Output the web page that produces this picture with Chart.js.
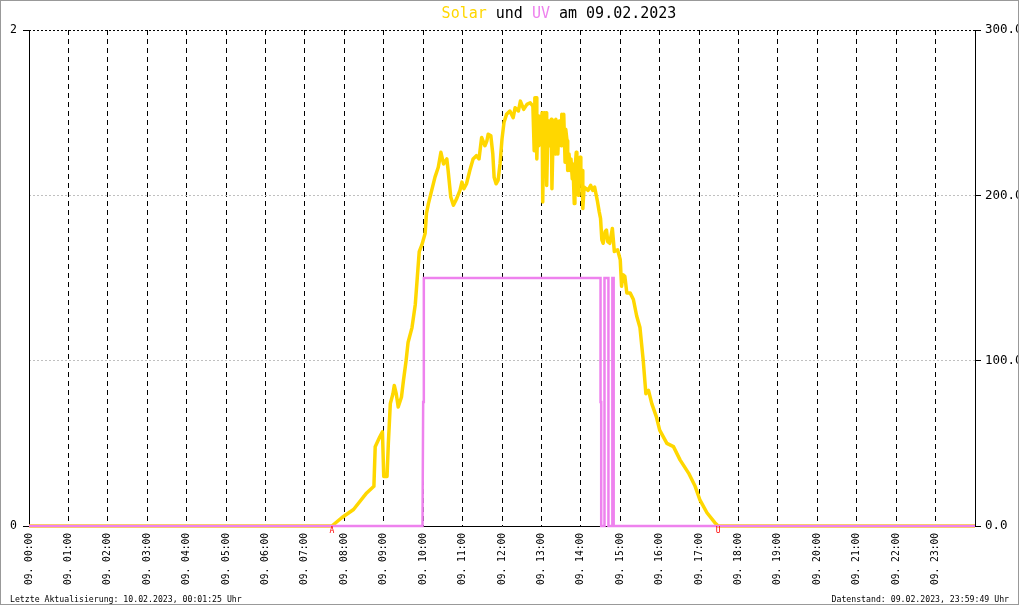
<!DOCTYPE html>
<html>
<head>
<meta charset="utf-8">
<script src="https://cdn.jsdelivr.net/npm/chart.js@4/dist/chart.umd.min.js"></script>
<style>
  html, body { margin: 0; padding: 0; background: #fff; }
  canvas { display: block; }
</style>
</head>
<body>
<canvas id="chart" width="1020" height="606"></canvas>
<script>
// x axis tick labels (one per hour)
const hourLabels = [
  '09. 00:00', '09. 01:00', '09. 02:00', '09. 03:00', '09. 04:00', '09. 05:00',
  '09. 06:00', '09. 07:00', '09. 08:00', '09. 09:00', '09. 10:00', '09. 11:00',
  '09. 12:00', '09. 13:00', '09. 14:00', '09. 15:00', '09. 16:00', '09. 17:00',
  '09. 18:00', '09. 19:00', '09. 20:00', '09. 21:00', '09. 22:00', '09. 23:00'
];

// solar radiation (W/m², right axis), time in minutes of the day
const solarTimes = [
  0, 461, 476, 494, 514, 525, 527, 534, 538, 540, 545, 547, 550, 554, 556, 559,
  562, 567, 570, 574, 577, 583, 588, 591, 594, 598, 603, 605, 608, 613, 618, 623,
  627, 631, 636, 638, 642, 646, 651, 656, 659, 662, 666, 671, 676, 681, 685, 689,
  694, 697, 699, 703, 706, 708, 711, 714, 717, 720, 723, 727, 732, 737, 740, 745,
  748, 753, 758, 763,
  767, 769, 770, 772, 773, 775, 776, 778, 779, 781, 782, 784, 785, 787, 788, 790,
  791, 793, 795, 796, 798, 799, 801, 802, 804, 805, 807, 808, 810, 811, 813, 814,
  816, 817, 819, 820, 822, 824, 825, 827, 828, 830, 831, 833, 834, 836, 837, 839,
  840, 842, 843, 845, 846,
  851, 855, 858, 861, 865, 868, 870, 872, 874, 877, 879, 881,
  884, 888, 891, 896, 900, 902, 904, 907, 910, 915, 920, 925, 930, 935, 939, 943,
  948, 955, 960, 971, 981, 991, 1004, 1014, 1021, 1032, 1044, 1049, 1440
];
const solarValues = [
  0, 0, 5, 10, 20, 24, 48, 54, 57, 30, 30, 50, 74, 80, 85, 80,
  72, 78, 88, 100, 111, 120, 134, 150, 166, 170, 177, 189, 195, 203, 211, 217,
  226, 219, 222, 215, 199, 194, 198, 203, 208, 204, 207, 215, 222, 224, 222, 235,
  230, 233, 237, 236, 225, 211, 207, 209, 219, 234, 244, 249, 251, 247, 253, 251,
  257, 252, 255, 256,
  254, 227, 259, 259, 222, 248, 230, 245, 235, 250, 196, 250, 240, 250, 206, 240,
  245, 230, 246, 204, 240, 245, 225, 246, 235, 225, 245, 240, 230, 249, 240, 249,
  220, 240, 233, 215, 225, 215, 222, 210, 219, 195, 215, 226, 205, 200, 220, 223,
  210, 215, 192, 205, 205,
  203, 206, 203, 205, 197, 190, 186, 173, 171, 178, 179, 172,
  171, 180, 166, 167, 161, 145, 152, 151, 141, 141, 137, 127, 120, 100, 80, 82,
  74, 66, 58, 50, 48, 40, 32, 24, 16, 8, 2, 0, 0
];

// UV index (left axis)
const uvTimes  = [0, 599, 600, 601, 870, 870, 871, 871, 876, 876, 882, 882, 888, 888, 890, 890, 1440];
const uvValues = [0, 0, 0.5, 1, 1, 0.5, 0.5, 0, 0, 1, 1, 0, 0, 1, 1, 0, 0];

// sunrise / sunset markers (minutes)
const sunMarks = [461, 1049];
const sunMarkLabels = ['A', 'U'];

const titleParts = [
  ['Solar', '#FFD700'],
  [' und ', '#000000'],
  ['UV', '#EE82EE'],
  [' am 09.02.2023', '#000000']
];
const footerLeft = 'Letzte Aktualisierung: 10.02.2023, 00:01:25 Uhr';
const footerRight = 'Datenstand: 09.02.2023, 23:59:49 Uhr';

const MONO = "'DejaVu Sans Mono', 'Liberation Mono', monospace";

const toPoints = (xs, ys) => xs.map((t, i) => ({ x: t, y: ys[i] }));

const decorations = {
  id: 'decorations',
  beforeDraw(chart) {
    const ctx = chart.ctx;
    ctx.save();
    ctx.fillStyle = '#ffffff';
    ctx.fillRect(0, 0, chart.width, chart.height);
    ctx.restore();
  },
  afterDraw(chart) {
    const ctx = chart.ctx;
    const xScale = chart.scales.x;
    ctx.save();

    // title with coloured words
    ctx.font = '15px ' + MONO;
    ctx.textBaseline = 'alphabetic';
    ctx.textAlign = 'left';
    let total = 0;
    titleParts.forEach(p => { total += ctx.measureText(p[0]).width; });
    let tx = 559 - total / 2;
    titleParts.forEach(p => {
      ctx.fillStyle = p[1];
      ctx.fillText(p[0], tx, 18);
      tx += ctx.measureText(p[0]).width;
    });

    // sunrise / sunset letters
    ctx.font = '8px ' + MONO;
    ctx.fillStyle = '#ff0000';
    ctx.textAlign = 'center';
    ctx.textBaseline = 'top';
    sunMarks.forEach((m, i) => {
      ctx.fillText(sunMarkLabels[i], xScale.getPixelForValue(m), 527);
    });

    // footer
    ctx.font = '8.2px ' + MONO;
    ctx.fillStyle = '#000000';
    ctx.textBaseline = 'alphabetic';
    ctx.textAlign = 'left';
    ctx.fillText(footerLeft, 10, 602);
    ctx.textAlign = 'right';
    ctx.fillText(footerRight, 1009, 602);

    // frame
    ctx.fillStyle = '#ffffff';
    ctx.fillRect(1018, 0, 2, chart.height);
    ctx.fillRect(0, 605, chart.width, 1);
    ctx.strokeStyle = '#999999';
    ctx.lineWidth = 1;
    ctx.strokeRect(0.5, 0.5, 1018, 604);
    ctx.restore();
  }
};

new Chart(document.getElementById('chart').getContext('2d'), {
  type: 'line',
  data: {
    datasets: [
      {
        label: 'UV',
        data: toPoints(uvTimes, uvValues),
        yAxisID: 'y',
        borderColor: '#EE82EE',
        borderWidth: 2.5,
        pointRadius: 0,
        tension: 0,
        clip: false,
      },
      {
        label: 'Solar',
        data: toPoints(solarTimes, solarValues),
        yAxisID: 'y1',
        borderColor: '#FFD700',
        borderWidth: 3.5,
        borderJoinStyle: 'round',
        pointRadius: 0,
        tension: 0,
        clip: false,
      },
    ],
  },
  options: {
    responsive: false,
    animation: false,
    events: [],
    layout: { padding: { top: 30, left: 0, right: 0, bottom: 0 } },
    plugins: {
      legend: { display: false },
      title: { display: false },
      tooltip: { enabled: false },
    },
    scales: {
      x: {
        type: 'linear',
        min: 0,
        max: 1440,
        afterFit: (scale) => { scale.height = 80; },
        border: { display: true, color: '#000', width: 1, dash: [5, 4] },
        grid: {
          color: (c) => (c.tick && (c.tick.value === 0 || c.tick.value === 1440)) ? 'rgba(0,0,0,0)' : '#000',
          lineWidth: 1,
          drawTicks: false,
        },
        ticks: {
          stepSize: 60,
          autoSkip: false,
          minRotation: 90,
          maxRotation: 90,
          padding: 7,
          color: '#000',
          font: { family: MONO, size: 9.6 },
          callback: (v) => hourLabels[v / 60] || '',
        },
      },
      y: {
        position: 'left',
        min: 0,
        max: 2,
        afterFit: (scale) => { scale.width = 29; },
        border: { display: true, color: '#000', width: 1 },
        grid: { drawOnChartArea: false, tickLength: 6, tickColor: '#000' },
        ticks: {
          stepSize: 2,
          padding: 6,
          color: '#000',
          font: { family: MONO, size: 11.5 },
          callback: (v) => String(v),
        },
      },
      y1: {
        position: 'right',
        min: 0,
        max: 300,
        afterFit: (scale) => { scale.width = 45; },
        border: { display: true, color: '#000', width: 1, dash: [2, 2] },
        grid: {
          color: (c) => {
            const v = c.tick ? c.tick.value : 0;
            if (v === 300) return '#000';
            if (v === 0) return 'rgba(0,0,0,0)';
            return '#c0c0c0';
          },
          tickLength: 6,
          tickColor: '#000',
        },
        ticks: {
          stepSize: 100,
          padding: 4,
          color: '#000',
          font: { family: MONO, size: 12.5 },
          callback: (v) => Number(v).toFixed(1),
        },
      },
    },
  },
  plugins: [decorations],
});
</script>
</body>
</html>
